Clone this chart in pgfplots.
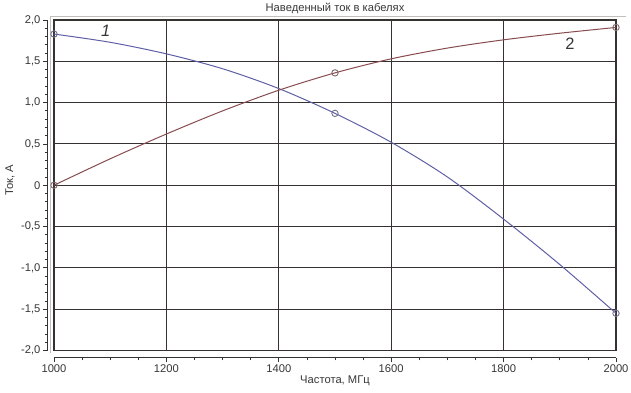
\documentclass[border=0pt]{standalone}
\usepackage{pgfplots}
\usepackage{pgfplotstable}
\pgfplotsset{compat=1.18}
\usepackage{fontspec}
\setmainfont{Liberation Sans}
\definecolor{cone}{RGB}{95,95,165}
\definecolor{ctwo}{RGB}{135,75,80}
\definecolor{gridc}{RGB}{55,50,50}
\definecolor{framec}{RGB}{195,190,190}
\definecolor{txtc}{RGB}{55,55,55}
\pgfplotstableread{
f i1 i2
1000 1.83 0.00
1100 1.73 0.32
1200 1.59 0.62
1300 1.41 0.90
1400 1.17 1.15
1500 0.87 1.36
1600 0.52 1.53
1700 0.10 1.66
1800 -0.41 1.76
1900 -0.96 1.84
2000 -1.55 1.91
}\curves
\pgfplotstableread{
f i1 i2
1000 1.83 0.00
1500 0.87 1.36
2000 -1.55 1.91
}\marks
\begin{document}
\begin{tikzpicture}
\useasboundingbox (-54pt,-42.5pt) rectangle (577pt,350.5pt);
\draw[framec, line width=0.8pt] (-4pt,-3pt) -- (-4pt,334.5pt) -- (572pt,334.5pt);
\begin{axis}[at={(0,0)}, anchor=south west, scale only axis,
  width=562pt, height=330.5pt,
  xmin=1000, xmax=2000, ymin=-2, ymax=2,
  xtick={1000,1200,...,2000}, xticklabels={},
  ytick={-2,-1.5,...,2}, yticklabels={},
  grid=major,
  major grid style={gridc, line width=1.1pt},
  axis line style={gridc, line width=1pt},
  tick style={draw=none},
  title={Наведенный ток в кабелях},
  title style={font=\fontsize{11.2}{13}\selectfont, text=txtc, at={(0.5,1)}, anchor=center, yshift=5.5pt},
  ylabel={Ток, А},
  ylabel style={font=\fontsize{11.2}{13}\selectfont, text=txtc, at={(axis description cs:-0.0783,0.515)}, anchor=center},
]
\addplot[cone, line width=1pt, smooth, no marks] table[x=f, y=i1] {\curves};
\addplot[ctwo, line width=1pt, smooth, no marks] table[x=f, y=i2] {\curves};
\addplot[only marks, mark=o, mark size=3.2pt, mark options={draw=gray!60!cone, line width=0.9pt}] table[x=f, y=i1] {\marks};
\addplot[only marks, mark=o, mark size=3.2pt, mark options={draw=gray!60!ctwo, line width=0.9pt}] table[x=f, y=i2] {\marks};
\node[font=\fontsize{16.5}{18}\selectfont\itshape, text=txtc] at (axis cs:1092,1.867) {1};
\node[font=\fontsize{16.5}{18}\selectfont, text=txtc] at (axis cs:1918,1.71) {2};
\end{axis}
% x axis, offset below
\begin{axis}[at={(0,-7pt)}, anchor=south west, scale only axis,
  width=562pt, height=1pt,
  xmin=1000, xmax=2000, ymin=0, ymax=1,
  axis x line*=bottom, axis y line=none,
  xtick={1000,1200,...,2000},
  xticklabels={1000,1200,1400,1600,1800,2000},
  minor x tick num=3, tick align=outside,
  major tick length=5pt, minor tick length=3pt,
  every tick/.style={gridc, line width=0.8pt},
  axis line style={gridc, line width=1pt},
  x tick label style={font=\fontsize{11.2}{13}\selectfont, text=txtc, yshift=1pt},
  xlabel={Частота, МГц},
  xlabel style={font=\fontsize{11.2}{13}\selectfont, text=txtc, yshift=4pt},
]
\end{axis}
% y axis, offset left
\begin{axis}[at={(-6pt,0)}, anchor=south west, scale only axis,
  width=1pt, height=330.5pt,
  xmin=0, xmax=1, ymin=-2, ymax=2,
  axis y line*=left, axis x line=none,
  ytick={-2,-1.5,...,2},
  yticklabels={{-2,0},{-1,5},{-1,0},{-0,5},0,{0,5},{1,0},{1,5},{2,0}},
  minor y tick num=4, tick align=outside,
  major tick length=5pt, minor tick length=3pt,
  every tick/.style={gridc, line width=0.8pt},
  axis line style={gridc, line width=1pt},
  y tick label style={font=\fontsize{11.2}{13}\selectfont, text=txtc, xshift=1pt},
]
\end{axis}
\end{tikzpicture}
\end{document}
